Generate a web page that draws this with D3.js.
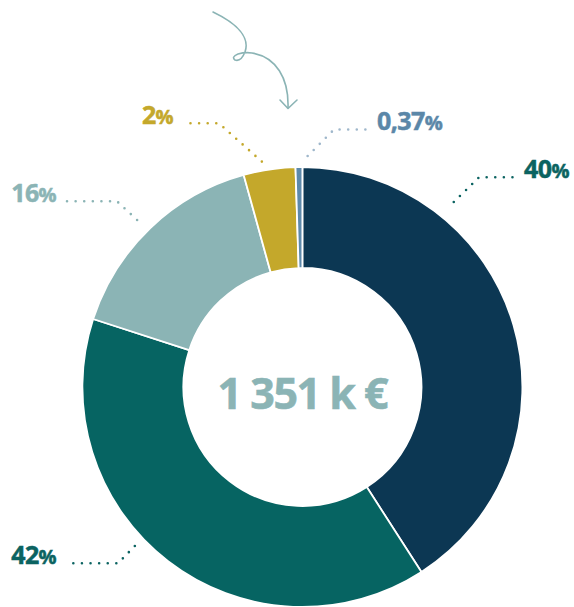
<!DOCTYPE html>
<html>
<head>
<meta charset="utf-8">
<script src="https://cdn.jsdelivr.net/npm/d3@7"></script>
<style>
  html, body { margin: 0; padding: 0; background: #fff; }
  svg { display: block; }
</style>
</head>
<body>
<div id="chart"></div>
<script>
// shares as drawn by the arcs (clockwise from 12 o'clock)
const segments = ["seg1", "seg2", "seg3", "seg4", "seg5"];
const values = [40.9, 39.1, 15.7, 3.8, 0.5];
const labels = ["40", "42", "16", "2", "0,37"];
const totalLabel = "1 351 k €";

const sliceColors = ["#0c3753", "#066462", "#8bb4b5", "#c4a82b", "#5d89ab"];
const labelColors = ["#0b6361", "#0b6361", "#8bb4b5", "#c4a82b", "#5b87a8"];
const dotColors = ["#0b6361", "#0b6361", "#8bb4b5", "#c4a82b", "#9fb7cb"];

// leader layout: anchor angle (deg) / radius, elbow, end of the flat part, text x
const leaders = [
    {a: 39.3, r: 239, elbow: [479, 177.3], end: 513, tx: 524, anchor: "start"},
    {a: 226.5, r: 231, elbow: [118, 563.3], end: 67, tx: 56, anchor: "end"},
    {a: -44.7, r: 235, elbow: [117, 201.3], end: 67, tx: 56, anchor: "end"},
    {a: -10.2, r: 229, elbow: [219, 123.3], end: 184, tx: 173, anchor: "end"},
    {a: 1.3, r: 231, elbow: [334, 129.5], end: 367, tx: 377, anchor: "start"}
];

const width = 574, height = 607;
const cx = 302.4, cy = 387, outerR = 220, innerR = 119;

const svg = d3.select("#chart").append("svg")
    .attr("width", width)
    .attr("height", height);

const g = svg.append("g")
    .attr("transform", "translate(" + cx + "," + cy + ")");

const pie = d3.pie().sort(null).value(d => d);
const arcs = pie(values);

const arc = d3.arc()
    .innerRadius(innerR)
    .outerRadius(outerR);

g.selectAll("path.slice")
    .data(arcs)
    .join("path")
    .attr("class", "slice")
    .attr("d", arc)
    .attr("fill", (d, i) => sliceColors[i])
    .attr("stroke", "#fff")
    .attr("stroke-width", 1.8)
    .attr("stroke-linejoin", "miter");

// centre total
g.append("text")
    .attr("x", 0)
    .attr("y", 22)
    .attr("text-anchor", "middle")
    .attr("fill", "#8bb4b5")
    .attr("stroke", "#8bb4b5")
    .attr("stroke-width", 0.6)
    .style("font-family", "'Open Sans', sans-serif")
    .style("font-weight", 700)
    .style("font-size", "43px")
    .style("letter-spacing", "-1.5px")
    .text(totalLabel);

// dotted leaders
const line = d3.line();
leaders.forEach((l, i) => {
    const rad = l.a * Math.PI / 180;
    const start = [cx + l.r * Math.sin(rad), cy - l.r * Math.cos(rad)];
    svg.append("path")
        .attr("d", line([start, l.elbow, [l.end, l.elbow[1]]]))
        .attr("fill", "none")
        .attr("stroke", dotColors[i])
        .attr("stroke-width", 2.6)
        .attr("stroke-linecap", "round")
        .attr("stroke-dasharray", "0 8.6");

    const t = svg.append("text")
        .attr("x", l.tx)
        .attr("y", l.elbow[1] + 0.3)
        .attr("text-anchor", l.anchor)
        .attr("fill", labelColors[i])
        .attr("stroke", labelColors[i])
        .attr("stroke-width", 0.5)
        .style("font-family", "'Open Sans', sans-serif")
        .style("font-weight", 700)
        .style("font-size", "25px")
        .style("letter-spacing", "-0.6px");
    t.append("tspan").text(labels[i]);
    t.append("tspan").style("font-size", "20px").text("%");
});

// hand-drawn arrow at the top
svg.append("path")
    .attr("d", "M213,12 C238,24 250,38 245,52 Q241,62 235,60 Q231,57 238,54 Q245,52 252,53 C276,57 289,78 288,108")
    .attr("fill", "none")
    .attr("stroke", "#8bb4b5")
    .attr("stroke-width", 1.6)
    .attr("stroke-linecap", "round");

svg.append("path")
    .attr("d", "M280,100 L288,108.5 L297,100")
    .attr("fill", "none")
    .attr("stroke", "#8bb4b5")
    .attr("stroke-width", 1.6)
    .attr("stroke-linecap", "round")
    .attr("stroke-linejoin", "round");
</script>
</body>
</html>
